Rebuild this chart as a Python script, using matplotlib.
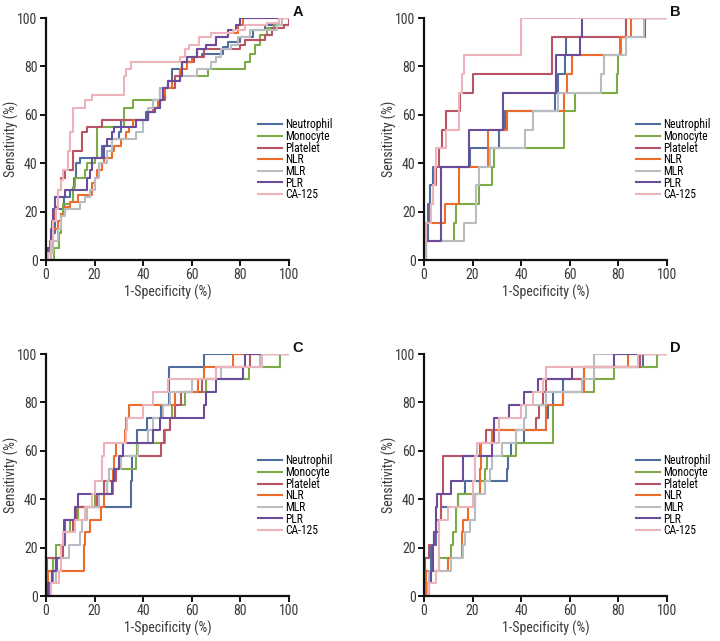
import matplotlib
matplotlib.use("Agg")
import matplotlib.pyplot as plt

plt.rcParams['font.family'] = ['Roboto Condensed', 'DejaVu Sans']

markers = ["Neutrophil", "Monocyte", "Platelet", "NLR", "MLR", "PLR", "CA-125"]
colors = ["#4f6d9e", "#7dab48", "#b85463", "#ed6c2c", "#b9bcc0", "#6a4c9b", "#ecb3bb"]
ticks = [0, 20, 40, 60, 80, 100]
panel_labels = ["A", "B", "C", "D"]

# ---------- Panel A (fpr, tpr step points) ----------
A_neutrophil_x = [0, 0.7, 2, 3.5, 7.5, 10, 11.5, 12.5, 14, 23, 27, 30, 31, 36, 41, 44, 47, 50, 52, 56, 60, 64, 73, 75, 80, 85, 90, 96, 100]
A_neutrophil_y = [0, 5, 11, 21, 26, 29, 34, 40, 42, 47, 50, 53, 58, 58, 61, 66, 71, 74, 79, 82, 84, 85, 88, 90, 92, 95, 97, 100, 100]
A_monocyte_x = [0, 3.4, 5.5, 6, 7, 10, 11, 12, 16, 17, 20, 21, 27, 32, 36, 46, 47, 50, 53, 61, 66.5, 80, 82, 84, 86, 88, 91, 94, 100]
A_monocyte_y = [0, 5, 11, 19, 23, 24, 30, 34, 37, 40, 42, 55, 55, 63, 66, 66, 71, 74, 76, 76, 79, 79, 82, 85, 89, 93, 96, 97, 100]
A_platelet_x = [0, 0.5, 1.5, 2.5, 3.5, 5, 6, 8, 11, 15, 17, 23, 42, 45, 47, 49, 53, 55, 56, 61, 65, 80, 82, 90, 93, 98, 100]
A_platelet_y = [0, 3, 8, 16, 22, 29, 34, 37, 45, 53, 55, 58, 61, 63, 66, 71, 76, 79, 82, 84, 87, 89, 91, 93, 96, 97, 100]
A_nlr_x = [0, 1, 2, 3, 5, 6, 8, 10, 13, 19, 20, 21, 23, 24, 27, 28, 31, 33, 34, 36, 42, 44, 46, 48, 49, 52, 55, 58, 60, 62, 66, 70, 75, 79, 81, 100]
A_nlr_y = [0, 3, 8, 13, 16, 19, 22, 24, 27, 32, 34, 37, 40, 42, 45, 47, 50, 53, 55, 58, 61, 63, 66, 68, 71, 74, 79, 82, 84, 87, 89, 92, 94, 97, 100, 100]
A_mlr_x = [0, 2, 3, 5, 6, 8, 14, 16, 18, 20, 22, 25, 27, 37, 40, 42, 44, 47, 50, 55, 62, 68, 70, 72, 76, 79, 84, 95, 97, 100]
A_mlr_y = [0, 3, 8, 13, 18, 21, 24, 26, 29, 34, 40, 45, 50, 53, 58, 63, 66, 71, 74, 76, 79, 82, 84, 87, 89, 92, 95, 97, 100, 100]
A_plr_x = [0, 0.5, 2, 3, 3.5, 8, 17, 18, 19, 24, 25, 27, 28, 37, 42, 45, 47, 48, 50, 55, 56, 58, 62, 66, 70, 75, 78, 80, 100]
A_plr_y = [0, 5, 13, 21, 26, 29, 34, 37, 42, 47, 50, 53, 55, 58, 61, 63, 66, 71, 74, 76, 82, 84, 87, 89, 92, 95, 97, 100, 100]
A_ca125_x = [0, 1, 2, 3, 4, 5, 6, 7, 9, 10, 11, 16, 19, 32, 33, 35, 55, 57, 59, 63, 68, 77, 82, 91, 96, 100]
A_ca125_y = [0, 3, 8, 16, 21, 29, 33, 37, 45, 53, 63, 66, 68, 76, 79, 82, 84, 87, 89, 92, 94, 95, 97, 98, 100, 100]

# ---------- Panel B ----------
B_neutrophil_x = [0, 0.5, 1.5, 2.5, 3.5, 19, 31, 33.5, 54, 55, 58, 58.5, 91, 100]
B_neutrophil_y = [0, 7.7, 23.1, 30.8, 38.5, 46.2, 53.8, 61.5, 69.2, 76.9, 84.6, 92.3, 100, 100]
B_monocyte_x = [0, 1, 12.5, 13, 22.5, 28, 29, 57.5, 62, 79.5, 80, 81, 83, 100]
B_monocyte_y = [0, 7.7, 15.4, 23.1, 30.8, 38.5, 46.2, 61.5, 69.2, 76.9, 84.6, 92.3, 100, 100]
B_platelet_x = [0, 1, 2.3, 3.5, 5, 6, 7.5, 9, 15, 20, 52.5, 83, 100]
B_platelet_y = [0, 15.4, 23.1, 30.8, 38.5, 46.2, 53.8, 61.5, 69.2, 76.9, 92.3, 100, 100]
B_nlr_x = [0, 1, 8.5, 14.3, 26.5, 34, 57.5, 59, 61, 80.5, 85, 100]
B_nlr_y = [0, 15.4, 23.1, 38.5, 53.8, 61.5, 69.2, 76.9, 84.6, 92.3, 100, 100]
B_mlr_x = [0, 1, 16.5, 21.3, 22.5, 27, 41.5, 45, 55, 73, 74, 83, 90.5, 100]
B_mlr_y = [0, 7.7, 15.4, 30.8, 38.5, 46.2, 53.8, 61.5, 69.2, 76.9, 84.6, 92.3, 100, 100]
B_plr_x = [0, 0.3, 6.8, 18.5, 32.5, 54.5, 64, 65, 100]
B_plr_y = [0, 7.7, 38.5, 53.8, 69.2, 84.6, 92.3, 100, 100]
B_ca125_x = [0, 0.5, 1, 3, 3.5, 4.5, 5, 9, 14.5, 15.5, 16.5, 40, 100]
B_ca125_y = [0, 7.7, 15.4, 23.1, 30.8, 38.5, 46.2, 53.8, 69.2, 76.9, 84.6, 100, 100]

# ---------- Panel C ----------
C_neutrophil_x = [0, 1.5, 2.5, 4.5, 6.5, 7.5, 8, 13, 35, 35.5, 37.5, 41.5, 47.5, 50.5, 65, 100]
C_neutrophil_y = [0, 5.3, 10.5, 15.8, 21.1, 26.3, 31.6, 36.8, 47.4, 57.9, 68.4, 73.7, 78.9, 94.7, 100, 100]
C_monocyte_x = [0, 1, 3, 4, 8, 10, 13, 20, 25, 26, 37, 37.5, 49, 51, 52, 57, 66, 82, 83.5, 96.5, 100]
C_monocyte_y = [0, 5.3, 15.8, 21.1, 26.3, 31.6, 36.8, 42.1, 47.4, 52.6, 57.9, 63.2, 68.4, 73.7, 78.9, 84.2, 89.5, 89.5, 94.7, 100, 100]
C_platelet_x = [0, 0.3, 7, 8, 11, 12.5, 21, 24, 29, 30.5, 47.5, 48.5, 51, 53, 55.5, 64, 70, 84, 100]
C_platelet_y = [0, 15.8, 21.1, 26.3, 31.6, 36.8, 42.1, 47.4, 52.6, 57.9, 63.2, 68.4, 73.7, 78.9, 84.2, 89.5, 94.7, 100, 100]
C_nlr_x = [0, 0.5, 1, 15.5, 16, 18, 22.5, 24, 27.5, 28, 29, 32.5, 33, 34, 53, 62.5, 65, 77, 100]
C_nlr_y = [0, 5.3, 10.5, 21.1, 26.3, 31.6, 36.8, 42.1, 52.6, 57.9, 63.2, 68.4, 73.7, 78.9, 84.2, 89.5, 94.7, 100, 100]
C_mlr_x = [0, 1, 4, 6, 9.5, 14, 15, 17, 22, 25, 26, 31, 38, 42, 44, 48, 51, 60, 72, 88, 100]
C_mlr_y = [0, 5.3, 10.5, 15.8, 21.1, 26.3, 31.6, 36.8, 42.1, 47.4, 52.6, 57.9, 63.2, 68.4, 73.7, 78.9, 84.2, 89.5, 94.7, 100, 100]
C_plr_x = [0, 1, 2.5, 4, 6, 7.5, 12, 13, 27, 28, 30, 31.5, 44, 47, 65, 66, 70, 81, 82, 100]
C_plr_y = [0, 5.3, 10.5, 15.8, 21.1, 31.6, 36.8, 42.1, 47.4, 52.6, 57.9, 63.2, 68.4, 73.7, 78.9, 84.2, 89.5, 94.7, 100, 100]
C_ca125_x = [0, 2, 5.5, 6, 7, 12, 16, 19, 20, 23, 24, 33, 33.5, 40, 44, 50, 70, 89, 100]
C_ca125_y = [0, 5.3, 10.5, 21.1, 26.3, 31.6, 36.8, 42.1, 47.4, 57.9, 63.2, 68.4, 73.7, 78.9, 84.2, 89.5, 94.7, 100, 100]

# ---------- Panel D ----------
D_neutrophil_x = [0, 1.5, 2.5, 3, 5, 6, 7, 14, 17, 34, 34.5, 36, 41, 50, 51, 53, 57, 66, 90, 100]
D_neutrophil_y = [0, 5.3, 10.5, 21.1, 26.3, 31.6, 36.8, 42.1, 47.4, 52.6, 57.9, 63.2, 68.4, 73.7, 78.9, 84.2, 89.5, 94.7, 100, 100]
D_monocyte_x = [0, 2, 3, 6, 11, 12, 13, 14, 23, 25, 26, 38, 53, 57, 70, 78, 96, 100]
D_monocyte_y = [0, 5.3, 10.5, 15.8, 21.1, 26.3, 36.8, 42.1, 47.4, 52.6, 57.9, 63.2, 78.9, 84.2, 89.5, 94.7, 100, 100]
D_platelet_x = [0, 0.5, 2, 4, 5, 7, 8, 23, 25.5, 46, 47.5, 49, 50, 66, 89, 100]
D_platelet_y = [0, 15.8, 21.1, 26.3, 31.6, 42.1, 57.9, 63.2, 68.4, 73.7, 78.9, 84.2, 89.5, 94.7, 100, 100]
D_nlr_x = [0, 1, 10, 15.5, 16, 18, 21, 23, 23.5, 28, 50, 57, 66, 84, 100]
D_nlr_y = [0, 10.5, 15.8, 26.3, 31.6, 36.8, 42.1, 52.6, 63.2, 68.4, 78.9, 84.2, 94.7, 100, 100]
D_mlr_x = [0, 1.5, 2, 11, 16, 17, 19, 21, 25, 27, 28, 32, 38, 41, 42, 50, 65, 70, 100]
D_mlr_y = [0, 5.3, 10.5, 15.8, 21.1, 26.3, 31.6, 42.1, 47.4, 52.6, 57.9, 63.2, 68.4, 73.7, 78.9, 84.2, 89.5, 100, 100]
D_plr_x = [0, 2, 3, 3.5, 4, 5, 5.5, 11, 16, 28, 29, 35, 41, 47, 61, 78, 100]
D_plr_y = [0, 5.3, 10.5, 21.1, 26.3, 36.8, 42.1, 47.4, 57.9, 63.2, 73.7, 78.9, 84.2, 89.5, 94.7, 100, 100]
D_ca125_x = [0, 2, 5, 6, 10, 20, 21, 22, 31, 40, 45, 49, 50, 88, 100]
D_ca125_y = [0, 5.3, 10.5, 31.6, 36.8, 47.4, 57.9, 63.2, 73.7, 78.9, 84.2, 89.5, 94.7, 100, 100]

panels = [
    [(A_neutrophil_x, A_neutrophil_y), (A_monocyte_x, A_monocyte_y), (A_platelet_x, A_platelet_y),
     (A_nlr_x, A_nlr_y), (A_mlr_x, A_mlr_y), (A_plr_x, A_plr_y), (A_ca125_x, A_ca125_y)],
    [(B_neutrophil_x, B_neutrophil_y), (B_monocyte_x, B_monocyte_y), (B_platelet_x, B_platelet_y),
     (B_nlr_x, B_nlr_y), (B_mlr_x, B_mlr_y), (B_plr_x, B_plr_y), (B_ca125_x, B_ca125_y)],
    [(C_neutrophil_x, C_neutrophil_y), (C_monocyte_x, C_monocyte_y), (C_platelet_x, C_platelet_y),
     (C_nlr_x, C_nlr_y), (C_mlr_x, C_mlr_y), (C_plr_x, C_plr_y), (C_ca125_x, C_ca125_y)],
    [(D_neutrophil_x, D_neutrophil_y), (D_monocyte_x, D_monocyte_y), (D_platelet_x, D_platelet_y),
     (D_nlr_x, D_nlr_y), (D_mlr_x, D_mlr_y), (D_plr_x, D_plr_y), (D_ca125_x, D_ca125_y)],
]

W, H = 720, 641
fig = plt.figure(figsize=(W / 100, H / 100), dpi=100)
boxes = [(46, 18), (424, 18), (46, 354), (424, 354)]  # left, top in px
aw, ah = 243, 242

for i, (left, top) in enumerate(boxes):
    ax = fig.add_axes([left / W, 1 - (top + ah) / H, aw / W, ah / H])
    for (xs, ys), c, name in zip(panels[i], colors, markers):
        ax.plot(xs, ys, drawstyle='steps-post', color=c, lw=1.5, label=name)
    ax.set_xlim(0, 100)
    ax.set_ylim(0, 100)
    ax.set_xticks(ticks)
    ax.set_yticks(ticks)
    for s in ['top', 'right']:
        ax.spines[s].set_visible(False)
    for s in ['left', 'bottom']:
        ax.spines[s].set_linewidth(1.6)
        ax.spines[s].set_color('#111111')
    ax.tick_params(direction='out', length=4, width=1.4, labelsize=10, colors='#111111',
                   labelcolor='#3a3a3a', pad=2)
    ax.set_xlabel('1-Specificity (%)', fontsize=10, color='#3a3a3a')
    ax.set_ylabel('Sensitivity (%)', fontsize=10, color='#3a3a3a')
    ax.xaxis.set_label_coords(0.5, -0.132)
    ax.yaxis.set_label_coords(-0.143, 0.5)
    ax.xaxis.label.set_va('center')
    ax.yaxis.label.set_va('center')
    ax.text(1.035, 1.025, panel_labels[i], transform=ax.transAxes, fontsize=10.5,
            fontweight='bold', ha='center', va='center', color='#111111',
            family=['Liberation Sans', 'DejaVu Sans'])
    ax.legend(loc='upper left', bbox_to_anchor=(0.872, 0.585), frameon=False,
              fontsize=8.3, handlelength=2.1, handletextpad=0.3, labelspacing=-0.12,
              borderaxespad=0, borderpad=0)

fig.savefig('out.png', dpi=100)
